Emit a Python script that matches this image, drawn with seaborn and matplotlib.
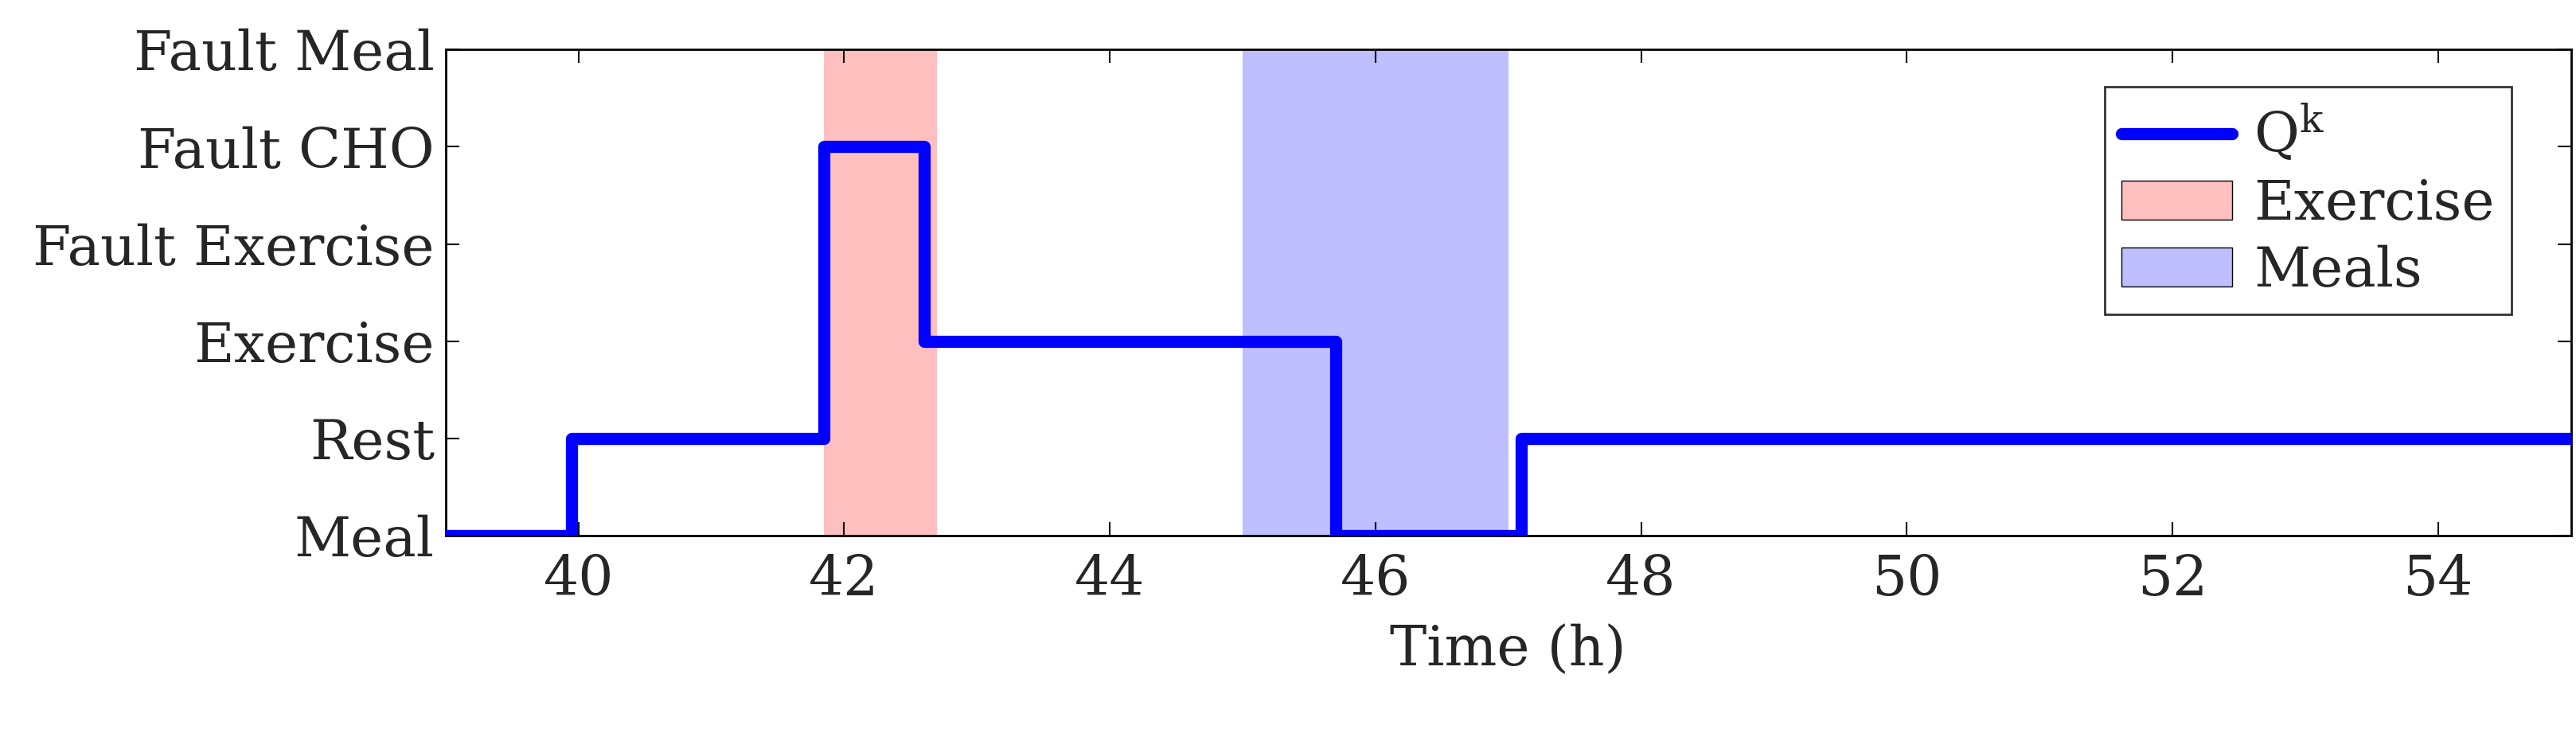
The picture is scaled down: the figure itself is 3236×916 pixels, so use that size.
import matplotlib
matplotlib.use("Agg")
import matplotlib.pyplot as plt
import seaborn as sns
import pandas as pd
from matplotlib.patches import Patch
from matplotlib.lines import Line2D

categories = ["Meal", "Rest", "Exercise", "Fault Exercise", "Fault CHO", "Fault Meal"]
times = [39.0, 39.95, 41.85, 42.6, 45.7, 47.1, 55.0]
states = [0, 1, 4, 2, 0, 1, 1]
exercise_span = [41.85, 42.7]
meal_span = [45.0, 47.0]
xticks = [40, 42, 44, 46, 48, 50, 52, 54]

sns.set_theme(style="white")
plt.rcParams['font.family'] = ['DejaVu Serif']
plt.rcParams['mathtext.fontset'] = 'dejavuserif'

fig = plt.figure(figsize=(32.36, 9.16), dpi=100)
ax = fig.add_axes([0.173, 0.265, 0.825, 0.667])

ax.axvspan(*exercise_span, color="#ffbfbf", lw=0, zorder=0)
ax.axvspan(*meal_span, color="#bfbfff", lw=0, zorder=0)
df = pd.DataFrame({"t": times, "q": states})
sns.lineplot(data=df, x="t", y="q", drawstyle="steps-post", color="#0000ff", lw=11, ax=ax, zorder=3)

ax.set_xlim(39, 55)
ax.set_ylim(0, 5)
ax.set_xticks(xticks)
ax.set_yticks(range(len(categories)))
ax.set_yticklabels(categories)
ax.tick_params(axis="both", labelsize=50, direction="in", length=12, width=1.5, color="black",
               bottom=True, left=True, top=True, right=True, labeltop=False, labelright=False)
ax.tick_params(axis="x", pad=16)
ax.tick_params(axis="y", pad=10)
ax.set_xlabel("Time (h)", fontsize=50, labelpad=16)
ax.set_ylabel("")
for s in ax.spines.values():
    s.set_color("black"); s.set_linewidth(2)

handles = [Line2D([], [], color="#0000ff", lw=11),
           Patch(facecolor="#ffbfbf", edgecolor="black"),
           Patch(facecolor="#bfbfff", edgecolor="black")]
leg = ax.legend(handles, [r"Q$^\mathrm{k}$", "Exercise", "Meals"], loc="upper right",
                fontsize=50, frameon=True, fancybox=False, edgecolor="black",
                bbox_to_anchor=(0.985, 0.98), handlelength=2.0, handletextpad=0.4,
                borderpad=0.3, labelspacing=0.25)
leg.get_frame().set_linewidth(2)
leg.set_zorder(5)
fig.savefig("out.png", dpi=100)
